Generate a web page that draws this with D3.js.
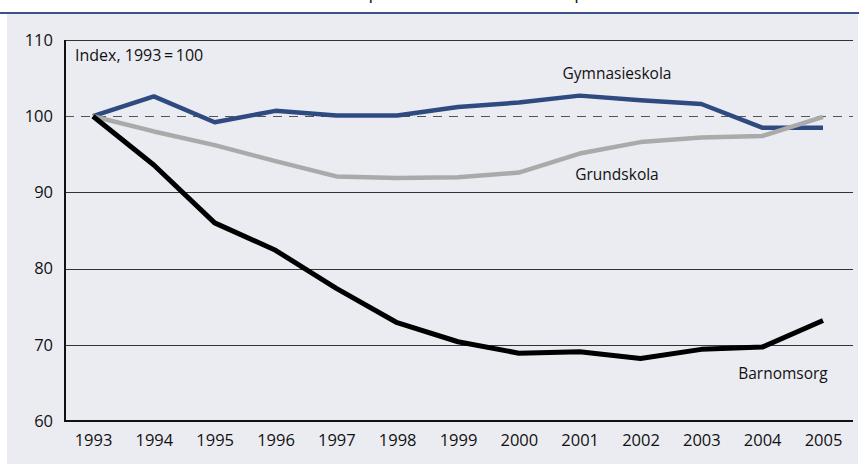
<!DOCTYPE html>
<html>
<head>
<meta charset="utf-8">
<script src="https://cdn.jsdelivr.net/npm/d3@7"></script>
<style>
  body { margin: 0; background: #fff; }
  svg { display: block; font-family: "Open Sans", "Noto Sans", sans-serif; }
</style>
</head>
<body>
<div id="chart"></div>
<script>
var w = 859;
var h = 464;

// data (index, 1993 = 100)
var years = [1993, 1994, 1995, 1996, 1997, 1998, 1999, 2000, 2001, 2002, 2003, 2004, 2005];
var gymnasieskola = [100, 102.6, 99.2, 100.7, 100.1, 100.1, 101.2, 101.8, 102.7, 102.1, 101.6, 98.5, 98.5];
var grundskola = [100, 98.0, 96.2, 94.1, 92.1, 91.9, 92.0, 92.6, 95.1, 96.6, 97.2, 97.4, 99.9];
var barnomsorg = [100, 93.6, 86.0, 82.4, 77.4, 72.9, 70.4, 68.9, 69.1, 68.2, 69.4, 69.7, 73.2];
var yTicks = [60, 70, 80, 90, 100, 110];
var seriesNames = ["Gymnasieskola", "Grundskola", "Barnomsorg"];

var pLeft = 65, pRight = 853, pTop = 40, pBottom = 421;

var svg = d3.select("#chart").append("svg")
    .attr("width", w)
    .attr("height", h);

// background panel + blue rule at the top
svg.append("rect").attr("x", 7).attr("y", 14).attr("width", w - 8).attr("height", h - 14).attr("fill", "#ebecf1");
svg.append("rect").attr("x", 0).attr("y", 12).attr("width", w).attr("height", 2).attr("fill", "#3b5487");

// title, mostly cut off at the top edge
svg.append("text")
    .attr("x", 459).attr("y", -1)
    .attr("text-anchor", "middle")
    .attr("font-size", 18)
    .attr("fill", "#111")
    .text("Kostnad per barn och elev i fasta priser");

var x = d3.scaleLinear().domain([1993, 2005]).range([93, 823]);
var y = d3.scaleLinear().domain([60, 110]).range([pBottom, pTop]);

// horizontal grid
svg.append("g").selectAll("line")
    .data(yTicks.filter(function (d) { return d != 60; }))
    .enter().append("line")
    .attr("x1", pLeft).attr("x2", pRight)
    .attr("y1", function (d) { return Math.round(y(d)) + 0.5; })
    .attr("y2", function (d) { return Math.round(y(d)) + 0.5; })
    .attr("stroke", function (d) { return d == 100 ? "#555" : "#333"; })
    .attr("stroke-width", 1)
    .attr("stroke-dasharray", function (d) { return d == 100 ? "9,7" : null; });

// y axis labels
var yAxis = d3.axisLeft(y).tickValues(yTicks).tickSize(0).tickPadding(12);
var gy = svg.append("g").attr("transform", "translate(" + pLeft + ",0)").call(yAxis)
    .attr("font-family", null).attr("font-size", 16.5);
gy.select(".domain").remove();
gy.selectAll("text").attr("fill", "#111");

// x axis labels
var xAxis = d3.axisBottom(x).tickValues(years).tickSize(0).tickPadding(13).tickFormat(d3.format("d"));
var gx = svg.append("g").attr("transform", "translate(0," + pBottom + ")").call(xAxis)
    .attr("font-family", null).attr("font-size", 16.5);
gx.select(".domain").remove();
gx.selectAll("text").attr("fill", "#111");

// axis lines
svg.append("line").attr("x1", pLeft).attr("x2", pLeft).attr("y1", pTop).attr("y2", pBottom + 1)
    .attr("stroke", "#111").attr("stroke-width", 2);
svg.append("line").attr("x1", pLeft - 1).attr("x2", pRight).attr("y1", pBottom).attr("y2", pBottom)
    .attr("stroke", "#111").attr("stroke-width", 2);

var line = d3.line()
    .x(function (d, i) { return x(years[i]); })
    .y(function (d) { return y(d); });

var series = [
    { values: gymnasieskola, color: "#2f4a80", width: 4.5 },
    { values: grundskola, color: "#aaaaaa", width: 4.5 },
    { values: barnomsorg, color: "#000000", width: 5 }
];

svg.append("g").selectAll("path")
    .data(series)
    .enter().append("path")
    .attr("d", function (d) { return line(d.values); })
    .attr("fill", "none")
    .attr("stroke", function (d) { return d.color; })
    .attr("stroke-width", function (d) { return d.width; })
    .attr("stroke-linejoin", "round");

// labels
svg.append("text").attr("x", 75).attr("y", 61).attr("font-size", 16).attr("fill", "#111")
    .text("Index, 1993\u2009=\u2009100");

var labels = [
    [seriesNames[0], 617, 79],
    [seriesNames[1], 617, 180],
    [seriesNames[2], 783, 379]
];
svg.append("g").selectAll("text")
    .data(labels)
    .enter().append("text")
    .attr("x", function (d) { return d[1]; })
    .attr("y", function (d) { return d[2]; })
    .attr("text-anchor", "middle")
    .attr("font-size", 15.5)
    .attr("fill", "#111")
    .text(function (d) { return d[0]; });
</script>
</body>
</html>
